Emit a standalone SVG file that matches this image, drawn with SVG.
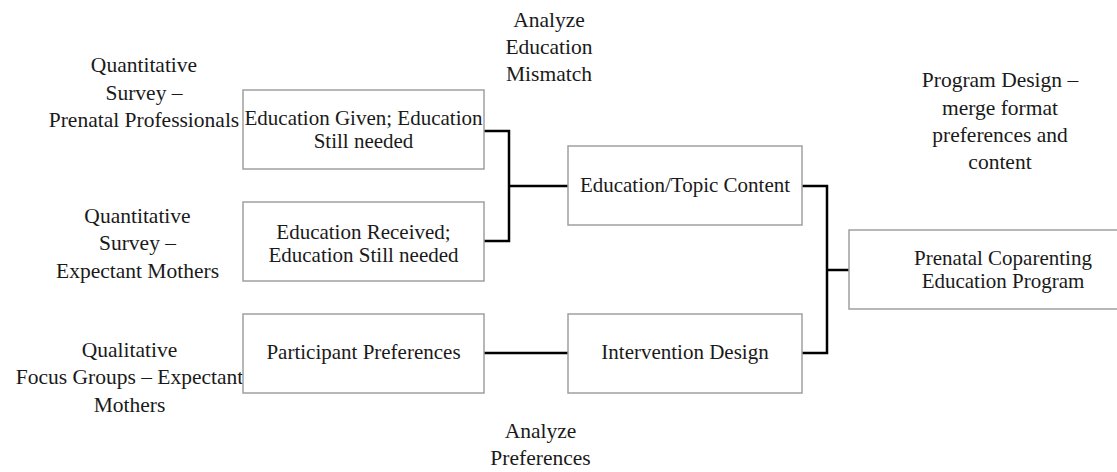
<svg xmlns="http://www.w3.org/2000/svg" width="1117" height="472" viewBox="0 0 1117 472">
<style>
text{font-family:"Liberation Serif","Times New Roman",serif;font-size:21.5px;fill:#1a1a1a;text-anchor:middle}
.in{font-size:21px}
.box{fill:#fff;stroke:#a0a0a0;stroke-width:1.5}
.conn{fill:none;stroke:#000;stroke-width:2.5;stroke-linejoin:miter;stroke-linecap:butt}
</style>
<rect width="1117" height="472" fill="#fff"/>
<g id="connectors">
<polyline class="conn" points="484,131 509,131 509,241 484,241"/>
<line class="conn" x1="509" y1="186" x2="568" y2="186"/>
<line class="conn" x1="484" y1="353" x2="568" y2="353"/>
<polyline class="conn" points="802,186 827,186 827,353 802,353"/>
<line class="conn" x1="827" y1="270" x2="849" y2="270"/>
</g>
<g id="label-analyze-mismatch">
<text x="549" y="27">Analyze</text>
<text x="549" y="54">Education</text>
<text x="549" y="81">Mismatch</text>
</g>
<g id="label-survey-professionals">
<text x="144" y="72">Quantitative</text>
<text x="144" y="99.5">Survey –</text>
<text x="144" y="126.5">Prenatal Professionals</text>
</g>
<g id="label-survey-mothers">
<text x="137.5" y="223">Quantitative</text>
<text x="137.5" y="250">Survey –</text>
<text x="137.5" y="277.5">Expectant Mothers</text>
</g>
<g id="label-focus-groups">
<text x="129.5" y="357">Qualitative</text>
<text x="129.5" y="384">Focus Groups – Expectant</text>
<text x="129.5" y="411.5">Mothers</text>
</g>
<g id="label-program-design">
<text x="1000" y="87">Program Design –</text>
<text x="1000" y="114.5">merge format</text>
<text x="1000" y="142">preferences and</text>
<text x="1000" y="169">content</text>
</g>
<g id="label-analyze-preferences">
<text x="540.5" y="438">Analyze</text>
<text x="540.5" y="465">Preferences</text>
</g>
<g id="node-education-given">
<rect class="box" x="243" y="90" width="241" height="79"/>
<text class="in" x="363.5" y="124.5">Education Given; Education</text>
<text class="in" x="363.5" y="148">Still needed</text>
</g>
<g id="node-education-received">
<rect class="box" x="243" y="202" width="241" height="79"/>
<text class="in" x="363.5" y="238.5">Education Received;</text>
<text class="in" x="363.5" y="262">Education Still needed</text>
</g>
<g id="node-participant-preferences">
<rect class="box" x="243" y="314" width="241" height="79"/>
<text class="in" x="363.5" y="358.5">Participant Preferences</text>
</g>
<g id="node-education-topic">
<rect class="box" x="568" y="146" width="234" height="79"/>
<text class="in" x="685" y="192">Education/Topic Content</text>
</g>
<g id="node-intervention-design">
<rect class="box" x="568" y="314" width="234" height="79"/>
<text class="in" x="685" y="359">Intervention Design</text>
</g>
<g id="node-program">
<path class="box" d="M1117,230 H849 V309 H1117"/>
<text class="in" x="1003" y="264.5">Prenatal Coparenting</text>
<text class="in" x="1003" y="288">Education Program</text>
</g>
</svg>
